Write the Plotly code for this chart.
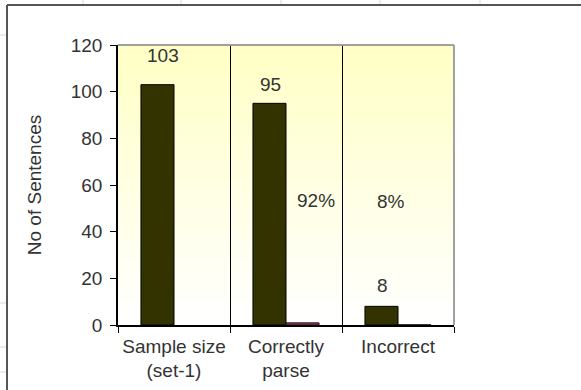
import plotly.graph_objects as go

# Data
categories = ["Sample size<br>(set-1)", "Correctly<br>parse", "Incorrect"]
sentences = [103, 95, 8]
share = [None, 0.92, 0.08]
share_labels = [None, "92%", "8%"]

FONT = "Liberation Sans, Arial, sans-serif"
TEXT = "#333333"
SIZE = 19

fig = go.Figure()
fig.add_trace(go.Bar(
    x=categories, y=sentences, name="Sentences",
    marker=dict(color="#333300", line=dict(color="#000000", width=1)),
))
fig.add_trace(go.Bar(
    x=categories, y=share, name="Share",
    marker=dict(color="#993366", line=dict(color="#1a1a1a", width=1)),
))

# Value labels (pixel nudges keep them where the author placed them)
count_shift = [(-11.5, 29), (-16, 19), (-16, 21)]
for cat, v, (dx, dy) in zip(categories, sentences, count_shift):
    fig.add_annotation(x=cat, y=v, text=str(v), showarrow=False,
                       xshift=dx, yshift=dy, yanchor="middle",
                       font=dict(family=FONT, size=SIZE, color=TEXT))
share_shift = [None, (30, 122), (-7, 123)]
for cat, v, lab, sh in zip(categories, share, share_labels, share_shift):
    if v is None:
        continue
    fig.add_annotation(x=cat, y=v, text=lab, showarrow=False,
                       xshift=sh[0], yshift=sh[1], yanchor="middle",
                       font=dict(family=FONT, size=SIZE, color=TEXT))

shapes = []
# Vertical fade from pale yellow at the top to white at the bottom
n = 60
top = (255, 255, 196)
for i in range(n):
    t = i / (n - 1)
    r = round(top[0] + (255 - top[0]) * t)
    g = round(top[1] + (255 - top[1]) * t)
    b = round(top[2] + (255 - top[2]) * t)
    shapes.append(dict(type="rect", xref="x domain", yref="y domain",
                       x0=0, x1=1, y0=1 - (i + 1) / n, y1=1 - i / n,
                       fillcolor=f"rgb({r},{g},{b})", line=dict(width=0),
                       layer="below"))
# Gray top and right edges of the plot area
shapes.append(dict(type="line", xref="x domain", yref="y domain",
                   x0=0, x1=1, y0=1, y1=1, line=dict(color="#a0a0a0", width=2)))
shapes.append(dict(type="line", xref="x domain", yref="y domain",
                   x0=1, x1=1, y0=0, y1=1, line=dict(color="#a0a0a0", width=2)))

# Outer chart frame (left and top edges)
L, T, W, H = 118, 45, 336, 280
def px(x):
    return (x - L) / W
def py(y):
    return (T + H - y) / H
shapes.append(dict(type="line", xref="paper", yref="paper",
                   x0=px(7), x1=px(7), y0=py(5), y1=py(400),
                   line=dict(color="#555555", width=2)))
shapes.append(dict(type="line", xref="paper", yref="paper",
                   x0=px(7), x1=px(600), y0=py(5), y1=py(5),
                   line=dict(color="#555555", width=2)))
# Faint sheet gridline stubs outside the frame
for gx in (83, 181, 281, 380, 480):
    shapes.append(dict(type="line", xref="paper", yref="paper",
                       x0=px(gx), x1=px(gx), y0=py(0), y1=py(4),
                       line=dict(color="#d8d8d8", width=1)))
for gy in (35, 303, 347, 372):
    shapes.append(dict(type="line", xref="paper", yref="paper",
                       x0=px(0), x1=px(6), y0=py(gy), y1=py(gy),
                       line=dict(color="#d8d8d8", width=1)))

fig.update_layout(
    width=581, height=390,
    margin=dict(l=L, r=581 - L - W, t=T, b=390 - T - H, autoexpand=False),
    paper_bgcolor="white", plot_bgcolor="white",
    barmode="group", bargap=0.41, bargroupgap=0,
    showlegend=False,
    shapes=shapes,
    font=dict(family=FONT, size=SIZE, color=TEXT),
)
fig.update_xaxes(
    showline=True, linecolor="black", linewidth=1.5,
    ticks="outside", ticklen=6, tickcolor="black", tickson="boundaries",
    showgrid=True, gridcolor="black", gridwidth=1,
    tickangle=0, automargin=False,
    ticklabelstandoff=3,
    tickfont=dict(family=FONT, size=SIZE, color=TEXT),
)
fig.update_yaxes(
    range=[0, 120], dtick=20, showgrid=False, zeroline=False,
    showline=True, linecolor="black", linewidth=1.5,
    ticks="outside", ticklen=6, tickcolor="black",
    automargin=False,
    ticklabelstandoff=4,
    tickfont=dict(family=FONT, size=SIZE, color=TEXT),
    title=dict(text="No of Sentences", standoff=24,
               font=dict(family=FONT, size=SIZE, color=TEXT)),
)

fig.write_html("out.html")
